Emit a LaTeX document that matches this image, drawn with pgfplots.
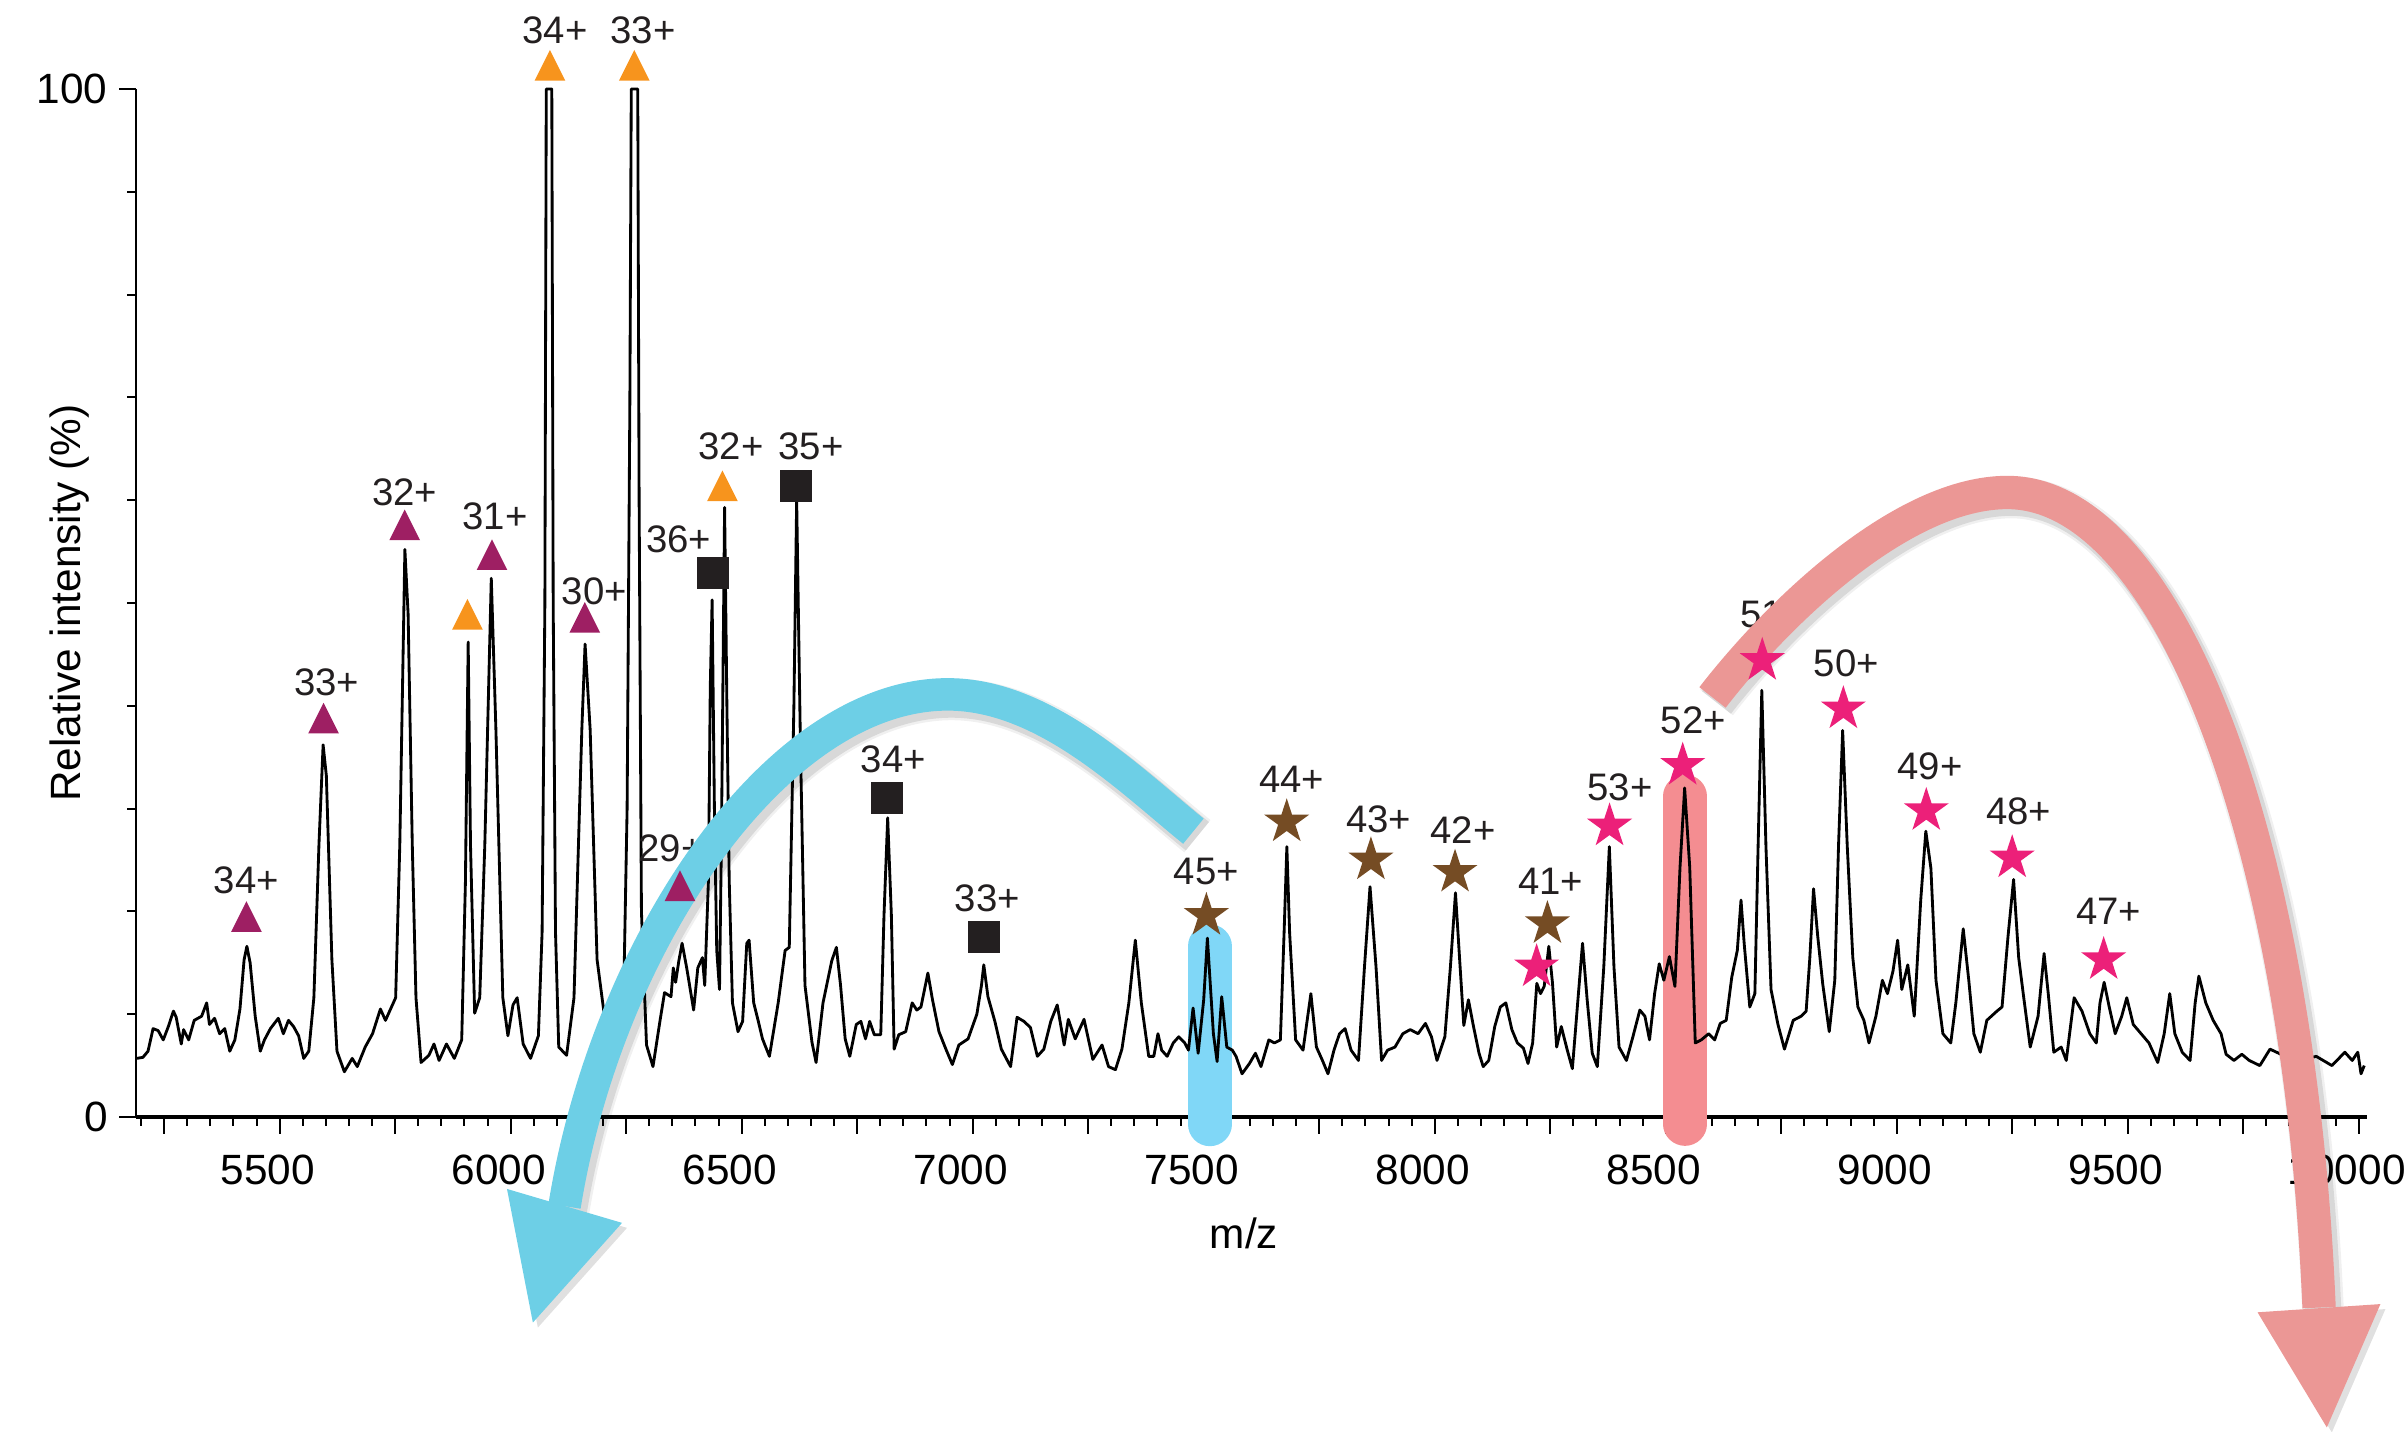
\documentclass[border=0pt]{standalone}
\usepackage{pgfplots}
\pgfplotsset{compat=1.18}
\usepackage{fontspec}
\setmainfont{Liberation Sans}
\definecolor{cpurple}{RGB}{158,31,99}
\definecolor{corange}{RGB}{247,148,29}
\definecolor{cblack}{RGB}{35,31,32}
\definecolor{cbrown}{RGB}{117,76,36}
\definecolor{cpink}{RGB}{236,32,121}
\definecolor{cbluearrow}{RGB}{109,207,230}
\definecolor{cbluebar}{RGB}{128,215,247}
\definecolor{cpinkarrow}{RGB}{235,151,149}
\definecolor{credbar}{RGB}{244,141,145}
\pgfdeclareplotmark{fstar}{%
 \pgfpathmoveto{\pgfqpointpolar{90}{\pgfplotmarksize}}%
 \pgfpathlineto{\pgfqpointpolar{126}{0.382\pgfplotmarksize}}%
 \pgfpathlineto{\pgfqpointpolar{162}{\pgfplotmarksize}}%
 \pgfpathlineto{\pgfqpointpolar{198}{0.382\pgfplotmarksize}}%
 \pgfpathlineto{\pgfqpointpolar{234}{\pgfplotmarksize}}%
 \pgfpathlineto{\pgfqpointpolar{270}{0.382\pgfplotmarksize}}%
 \pgfpathlineto{\pgfqpointpolar{306}{\pgfplotmarksize}}%
 \pgfpathlineto{\pgfqpointpolar{342}{0.382\pgfplotmarksize}}%
 \pgfpathlineto{\pgfqpointpolar{18}{\pgfplotmarksize}}%
 \pgfpathlineto{\pgfqpointpolar{54}{0.382\pgfplotmarksize}}%
 \pgfpathclose\pgfusepathqfill}
\pgfdeclareplotmark{ftri}{%
 \pgfpathmoveto{\pgfqpoint{0pt}{\pgfplotmarksize}}%
 \pgfpathlineto{\pgfqpoint{-\pgfplotmarksize}{-\pgfplotmarksize}}%
 \pgfpathlineto{\pgfqpoint{\pgfplotmarksize}{-\pgfplotmarksize}}%
 \pgfpathclose\pgfusepathqfill}
\pgfdeclareplotmark{fsq}{%
 \pgfpathrectangle{\pgfqpoint{-\pgfplotmarksize}{-\pgfplotmarksize}}{\pgfqpoint{2\pgfplotmarksize}{2\pgfplotmarksize}}%
 \pgfusepathqfill}
\tikzset{
 bluepath/.style={insert path={(axis cs:7477.7,27.80) .. controls (axis cs:7338.1,32.89) and (axis cs:7155.3,41.11) .. (axis cs:6945.9,41.11)
   .. controls (axis cs:6573.6,41.11) and (axis cs:6208.0,16.74) .. (axis cs:6116.6,-8.67)}},
 bluehead/.style={insert path={(axis cs:5992,-7.0) -- (axis cs:6241,-10.3) -- (axis cs:6048,-20.0) -- cycle}},
 pinkpath/.style={insert path={(axis cs:8601.3,40.81) .. controls (axis cs:8750.8,49.48) and (axis cs:9016.8,60.75) .. (axis cs:9239.5,60.75)
   .. controls (axis cs:9581.8,60.75) and (axis cs:9871.0,27.95) .. (axis cs:9914.2,-18.54)}},
 pinkhead/.style={insert path={(axis cs:9781,-19.0) -- (axis cs:10047,-18.2) -- (axis cs:9931,-30.2) -- cycle}},
}
\begin{document}
\begin{tikzpicture}
\begin{axis}[
 name=ax,
 scale only axis,
 width=669.3pt, height=308.4pt,
 xmin=5189, xmax=10018, ymin=0, ymax=100,
 enlargelimits=false,
 clip=false,
 axis x line=bottom, axis y line=left,
 axis line style={-},
 x axis line style={line width=1pt},
 y axis line style={line width=0.6pt},
 tick align=outside,
 major tick length=5pt, minor tick length=2.6pt,
 tick style={line width=0.6pt, black},
 scaled x ticks=false, scaled y ticks=false,
 xtick={5250,5500,...,10000},
 xticklabels={,5500,,6000,,6500,,7000,,7500,,8000,,8500,,9000,,9500,,10000},
 minor xtick={5200,5250,...,10000},
 ytick={0,100}, yticklabels={0,100},
 minor ytick={10,20,...,90},
 ticklabel style={font=\fontsize{12.7}{15}\selectfont},
 xticklabel style={xshift=-3.6pt, yshift=-3pt},
 xlabel={m/z}, ylabel={Relative intensity (\%)},
 label style={font=\fontsize{12.7}{15}\selectfont},
 xlabel style={at={(axis description cs:0.4966,-0.1128)}, anchor=center},
 ylabel style={at={(axis description cs:-0.0296,0.5)}, anchor=center},
]
% highlight bars
\draw[line width=13.2pt, line cap=round, cbluebar] (axis cs:7513,16.6) -- (axis cs:7513,-0.7);
\draw[line width=13pt, line cap=round, credbar] (axis cs:8542,31.2) -- (axis cs:8542,-0.7);
% spectrum
\addplot[black, line width=0.85pt, line join=round] coordinates {
(5190,5.7) (5204,5.8) (5215,6.4) (5226,8.6) (5237,8.4) (5248,7.5) (5259,8.8) (5270,10.3) (5276,9.7)
(5287,7.1) (5292,8.5) (5303,7.5) (5315,9.4) (5331,9.8) (5342,11.1) (5348,9.0) (5359,9.6) (5370,8.1)
(5381,8.6) (5392,6.4) (5403,7.5) (5414,10.5) (5423,15.3) (5429,16.6) (5436,15.0) (5447,9.8) (5458,6.4)
(5467,7.5) (5480,8.6) (5497,9.6) (5508,8.1) (5519,9.4) (5530,8.8) (5541,7.9) (5552,5.7) (5563,6.4)
(5574,11.6) (5585,26.5) (5594,36.2) (5601,33.2) (5613,15.3) (5624,6.4) (5640,4.4) (5657,5.7) (5668,4.9)
(5685,6.8) (5701,8.1) (5718,10.5) (5729,9.4) (5740,10.5) (5751,11.6) (5760,26.5) (5771,55.2) (5778,48.9)
(5787,26.5) (5795,11.6) (5806,5.3) (5823,6.0) (5834,7.1) (5845,5.5) (5861,7.1) (5878,5.7) (5894,7.5)
(5902,22.8) (5908,46.2) (5913,26.5) (5922,10.1) (5933,11.6) (5944,26.5) (5958,52.4) (5968,37.7) (5983,11.6)
(5994,7.9) (6005,10.9) (6014,11.6) (6027,7.1) (6043,5.7) (6060,7.9) (6068,18) (6074,50) (6077,100)
(6089,100) (6092,50) (6097,18) (6104,6.8) (6121,6.0) (6137,11.6) (6154,37.7) (6161,46.0) (6172,37.7)
(6187,15.3) (6203,9.8) (6215,8.5) (6231,11.6) (6245,12.8) (6252,30) (6258,70) (6261,100) (6275,100)
(6278,60) (6283,20) (6294,7.0) (6308,4.9) (6323,9.3) (6333,12.1) (6347,11.7) (6352,14.5) (6357,13.1)
(6364,15.2) (6371,16.9) (6381,14.5) (6396,10.4) (6405,14.5) (6415,15.5) (6420,12.8) (6428,23.0) (6432,41.8)
(6436,50.3) (6441,29.8) (6446,16.2) (6452,12.4) (6456,26.4) (6463,59.3) (6468,40) (6473,23) (6480,11.1)
(6492,8.3) (6502,9.3) (6511,16.9) (6516,17.2) (6526,11.1) (6536,9.3) (6545,7.6) (6560,5.9) (6579,11.1)
(6594,16.2) (6603,16.5) (6613,40) (6619,60) (6627,36.6) (6637,12.8) (6652,7.3) (6661,5.3) (6676,11.1)
(6695,15.2) (6705,16.5) (6714,12.8) (6724,7.6) (6734,5.9) (6748,9.0) (6758,9.3) (6768,7.6) (6777,9.3)
(6787,8.0) (6801,8.0) (6808,19.6) (6816,29.1) (6824,19.6) (6830,6.6) (6840,8.0) (6855,8.3) (6869,11.1)
(6879,10.4) (6888,10.7) (6903,14.0) (6913,11.4) (6927,8.3) (6942,6.6) (6956,5.1) (6970,7.0) (6990,7.6)
(7009,10.0) (7019,12.8) (7024,14.8) (7033,11.7) (7048,9.3) (7062,6.6) (7082,4.9) (7096,9.7) (7111,9.3)
(7125,8.7) (7140,5.9) (7154,6.6) (7169,9.3) (7183,10.9) (7198,7.0) (7207,9.5) (7222,7.6) (7241,9.5)
(7260,5.6) (7280,7.0) (7294,4.9) (7309,4.6) (7323,6.6) (7338,11.1) (7352,17.2) (7365,11.1) (7381,5.9)
(7392,5.9) (7401,8.1) (7409,6.5) (7421,5.9) (7434,7.2) (7446,7.8) (7459,7.2) (7467,6.5) (7477,10.6)
(7488,6.2) (7500,11.4) (7508,17.4) (7521,8.1) (7529,5.4) (7539,11.7) (7550,6.8) (7562,6.5) (7570,5.9)
(7583,4.2) (7599,5.2) (7612,6.2) (7624,4.9) (7641,7.5) (7653,7.2) (7666,7.5) (7674,17.9) (7680,26.3)
(7686,17.9) (7699,7.5) (7715,6.5) (7732,12.0) (7744,6.8) (7757,5.5) (7769,4.2) (7782,6.5) (7794,8.1)
(7806,8.6) (7819,6.5) (7835,5.5) (7848,14.6) (7860,22.4) (7873,14.6) (7885,5.5) (7898,6.5) (7914,6.8)
(7931,8.1) (7947,8.5) (7964,8.1) (7980,9.1) (7993,7.8) (8005,5.5) (8022,7.8) (8034,14.6) (8045,21.8)
(8055,14.6) (8063,8.9) (8073,11.4) (8084,8.8) (8096,6.2) (8105,4.9) (8117,5.5) (8130,8.8) (8142,10.7)
(8154,11.1) (8167,8.5) (8179,7.2) (8192,6.7) (8202,5.2) (8212,7.2) (8221,13.0) (8229,12.0) (8237,12.7)
(8247,16.6) (8255,13.0) (8264,6.8) (8274,8.8) (8287,6.5) (8298,4.7) (8310,11.4) (8320,16.9) (8330,11.4)
(8341,6.2) (8352,4.9) (8366,14.6) (8378,26.3) (8388,14.6) (8399,6.8) (8415,5.5) (8429,7.8) (8444,10.4)
(8455,9.8) (8465,7.5) (8476,12.0) (8486,14.9) (8496,13.3) (8508,15.6) (8520,12.7) (8531,24.3) (8541,32.0)
(8552,24.3) (8564,7.2) (8577,7.5) (8593,8.1) (8606,7.5) (8618,9.1) (8631,9.4) (8643,13.6) (8655,16.2)
(8663,21.1) (8670,16.8) (8682,10.7) (8693,12.0) (8700,26.3) (8708,41.5) (8717,26.3) (8728,12.4) (8743,9.0)
(8757,6.6) (8776,9.4) (8793,9.8) (8804,10.3) (8812,15.5) (8820,22.2) (8829,17.6) (8840,12.9) (8854,8.3)
(8866,13.3) (8874,26.3) (8883,37.6) (8893,26.3) (8905,15.5) (8916,10.7) (8929,9.4) (8940,7.2) (8955,9.8)
(8969,13.3) (8980,12.0) (8992,14.2) (9002,17.2) (9011,12.4) (9024,14.8) (9038,9.8) (9052,21.1) (9063,27.8)
(9074,24.2) (9085,13.3) (9100,8.1) (9117,7.2) (9128,11.1) (9144,18.3) (9156,13.3) (9167,8.1) (9181,6.3)
(9195,9.4) (9217,10.3) (9228,10.7) (9241,17.6) (9253,23.1) (9264,15.5) (9275,11.6) (9289,6.8) (9306,9.8)
(9319,15.9) (9328,12.0) (9340,6.3) (9356,6.8) (9367,5.5) (9384,11.6) (9401,10.3) (9418,8.1) (9432,7.2)
(9440,11.1) (9449,13.1) (9460,10.7) (9473,8.1) (9487,9.8) (9498,11.6) (9512,9.0) (9529,8.1) (9546,7.2)
(9565,5.3) (9579,8.1) (9591,12.0) (9602,8.1) (9618,6.3) (9635,5.5) (9646,11.1) (9654,13.7) (9669,11.1)
(9685,9.4) (9702,8.1) (9713,6.1) (9730,5.5) (9747,6.1) (9763,5.5) (9786,5.0) (9808,6.6) (9841,5.9)
(9875,5.5) (9908,5.9) (9942,5.0) (9970,6.3) (9986,5.5) (9998,6.3) (10005,4.2) (10012,5.0)
};
% markers
\addplot[only marks, mark=ftri, mark size=4.6pt, color=cpurple] coordinates {
(5428,19.5) (5595,38.8) (5770.6,57.6) (5959.5,54.7) (6160.4,48.6) (6366.5,22.5)};
\addplot[only marks, mark=ftri, mark size=4.6pt, color=corange] coordinates {
(5906.4,48.9) (6085,102.3) (6267.5,102.3) (6458.4,61.4)};
\addplot[only marks, mark=fsq, mark size=4.8pt, color=cblack] coordinates {
(6437.7,52.95) (6617,61.4) (6815,31.0) (7024.6,17.5)};
\addplot[only marks, mark=fstar, mark size=7.1pt, color=cbrown] coordinates {
(7505.8,19.6) (7679.7,28.7) (7862,25.0) (8044,23.8) (8244,18.8)};
\addplot[only marks, mark=fstar, mark size=7.1pt, color=cpink] coordinates {
(8220.6,14.6) (8378.5,28.3) (8536.8,34.2) (8709,44.4) (8884.5,39.7) (9064,29.8) (9250,25.2) (9448,15.3)};
% labels
\begin{scope}[every node/.style={font=\fontsize{11.5}{13}\selectfont, text=cblack, inner sep=0pt}]
\node at (axis cs:5428,23.0) {34+};
\node at (axis cs:5601.6,42.3) {33+};
\node at (axis cs:5770.6,60.8) {32+};
\node at (axis cs:5966,58.4) {31+};
\node at (axis cs:6181,51.1) {30+};
\node at (axis cs:6347,26.1) {29+};
\node at (axis cs:6363.6,56.2) {36+};
\node at (axis cs:6477,65.2) {32+};
\node at (axis cs:6096,105.7) {34+};
\node at (axis cs:6286.6,105.7) {33+};
\node at (axis cs:6650,65.2) {35+};
\node at (axis cs:6828.5,34.8) {34+};
\node at (axis cs:7031.4,21.3) {33+};
\node at (axis cs:7505.8,23.9) {45+};
\node at (axis cs:7690.5,32.8) {44+};
\node at (axis cs:7879,29.0) {43+};
\node at (axis cs:8061.5,27.9) {42+};
\node at (axis cs:8251,22.9) {41+};
\node at (axis cs:8401,32.1) {53+};
\node at (axis cs:8560,38.6) {52+};
\node at (axis cs:8731.7,48.9) {51+};
\node at (axis cs:8891,44.1) {50+};
\node at (axis cs:9072,34.1) {49+};
\node at (axis cs:9264,29.7) {48+};
\node at (axis cs:9459,20.0) {47+};
\end{scope}
% blue arrow with soft shadow
\draw[black, opacity=0.06, line width=12.5pt, xshift=1.2pt, yshift=-1.5pt, bluepath];
\draw[black, opacity=0.10, line width=11pt, xshift=1.2pt, yshift=-1.5pt, bluepath];
\fill[black, opacity=0.12, xshift=1.5pt, yshift=-1.5pt, bluehead];
\draw[cbluearrow, line width=9.75pt, bluepath];
\fill[cbluearrow, bluehead];
% pink arrow with soft shadow
\draw[black, opacity=0.06, line width=12.5pt, xshift=1.2pt, yshift=-1.5pt, pinkpath];
\draw[black, opacity=0.10, line width=11pt, xshift=1.2pt, yshift=-1.5pt, pinkpath];
\fill[black, opacity=0.12, xshift=1.5pt, yshift=-1.5pt, pinkhead];
\draw[cpinkarrow, line width=10pt, pinkpath];
\fill[cpinkarrow, pinkhead];
\end{axis}
\pgfresetboundingbox
\path ([shift={(-40.8pt,-94.5pt)}]ax.south west) rectangle ([shift={(12.3pt,26.7pt)}]ax.north east);
\end{tikzpicture}
\end{document}
